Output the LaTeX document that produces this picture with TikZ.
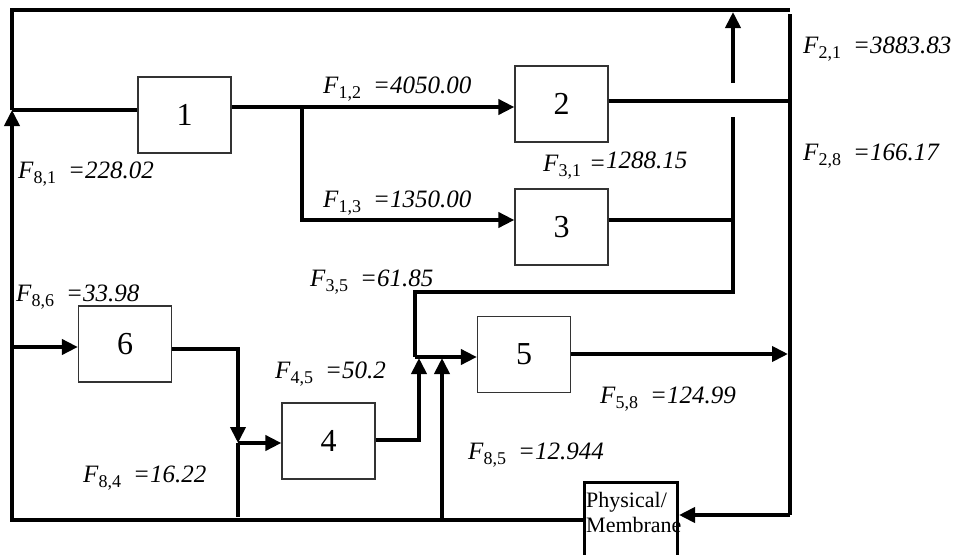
\documentclass[tikz,border=0pt]{standalone}
\usepackage{fontspec}
\setmainfont{Liberation Serif}
\usetikzlibrary{arrows.meta, positioning}

% flow label: F with upright subscript, then the value
\newcommand{\flowlab}[3][12pt]{\textit{F}\raisebox{-5pt}{\fontsize{18}{18}\selectfont #2}\hspace{#1}\textit{=#3}}

\begin{document}
\begin{tikzpicture}[x=1pt, y=-1pt,
  unit/.style={rectangle, draw=black!80, line width=1.2pt, fill=white,
               minimum width=93pt, minimum height=76pt, inner sep=0pt,
               font=\fontsize{32}{36}\selectfont},
  membox/.style={rectangle, draw=black, line width=3pt, anchor=north west,
                 minimum width=93pt, minimum height=100pt, inner sep=0pt},
  memtext/.style={anchor=north west, align=left, inner sep=0pt,
                  font=\fontsize{22}{25}\selectfont},
  flow/.style={line width=3.8pt},
  arr/.style={flow, -{Triangle[length=16pt, width=15pt]}},
  lbl/.style={anchor=base west, inner sep=0pt, font=\fontsize{25}{29}\selectfont}
]
\useasboundingbox (0,0) rectangle (958,554);

% units
\node[unit] (b1) at (184.5,115) {1};
\node[unit] (b2) at (561.5,104) {2};
\node[unit] (b3) at (561.5,227) {3};
\node[unit] (b4) at (328.5,441) {4};
\node[unit] (b5) at (524,354.5) {5};
\node[unit] (b6) at (125,344)   {6};
\node[membox] (mem) at (583,481) {};
\node[memtext] (memt) at ([shift={(3pt,-11pt)}]mem.north west) {Physical/\\Membrane};

% junctions
\coordinate (j81) at (12,110);
\coordinate (tl)  at (12,10);
\coordinate (tr)  at (790,10);
\coordinate (lb)  at (12,520);
\coordinate (j12) at (302,107);
\coordinate (j13) at (302,220);
\coordinate (r2)  at (790,101);
\coordinate (rt)  at (790,14);
\coordinate (rb)  at (790,515);
\coordinate (up1) at (733,83);
\coordinate (up2) at (733,12);
\coordinate (d1)  at (733,117);
\coordinate (d2)  at (733,292);
\coordinate (j35) at (415,292);
\coordinate (j5)  at (415,357);
\coordinate (j45) at (419,440);
\coordinate (t45) at (419,358);
\coordinate (b85) at (442,520);
\coordinate (t85) at (442,358);
\coordinate (e58) at (788,354);
\coordinate (j86) at (12,347);
\coordinate (c6)  at (238,349);
\coordinate (j4)  at (238,443);
\coordinate (b84) at (238,517);

% recycle loops
\draw[arr] (mem.west |- lb) -- (lb) -- (j81);
\draw[flow] (j81) -- (tl) -- (tr);
\draw[flow] (j81) -- (j81 -| b1.west);
\draw[flow] (rt) -- (rb);
\draw[arr] (rb) -- (rb -| mem.east);
\draw[arr] (up1) -- (up2);

% main line
\draw[arr] (b1.east |- j12) -- (j12 -| b2.west);
\draw[arr] (j12) -- (j13) -- (j13 -| b3.west);
\draw[flow] (b2.east |- r2) -- (r2);
\draw[flow] (b3.east |- j13) -- (j13 -| d1);
\draw[flow] (d1) -- (d2) -- (j35) -- (j5);
\draw[arr] (j5) -- (j5 -| b5.west);
\draw[arr] (b4.east |- j45) -- (j45) -- (t45);
\draw[arr] (b85) -- (t85);
\draw[arr] (b5.east |- e58) -- (e58);
\draw[arr] (j86) -- (j86 -| b6.west);
\draw[arr] (b6.east |- c6) -- (c6) -- (j4);
\draw[arr] (j4) -- (j4 -| b4.west);
\draw[flow] (j4) -- (b84);

% flow labels
\node[lbl] (l21) at (803,53)  {\flowlab{2,1}{3883.83}};
\node[lbl] (l28) at (803,160) {\flowlab{2,8}{166.17}};
\node[lbl] (l31) at (543,171) {\flowlab[8pt]{3,1}{\raisebox{3pt}{1288.15}}};
\node[lbl] (l12) at (323,93)  {\flowlab{1,2}{4050.00}};
\node[lbl] (l13) at (323,207) {\flowlab{1,3}{1350.00}};
\node[lbl] (l81) at (18,178)  {\flowlab{8,1}{228.02}};
\node[lbl] (l86) at (16,301)  {\flowlab{8,6}{33.98}};
\node[lbl] (l45) at (275,378) {\flowlab{4,5}{50.2}};
\node[lbl] (l35) at (310,286) {\flowlab{3,5}{61.85}};
\node[lbl] (l84) at (83,482)  {\flowlab{8,4}{16.22}};
\node[lbl] (l85) at (468,459) {\flowlab{8,5}{12.944}};
\node[lbl] (l58) at (600,403) {\flowlab{5,8}{124.99}};
\end{tikzpicture}
\end{document}
